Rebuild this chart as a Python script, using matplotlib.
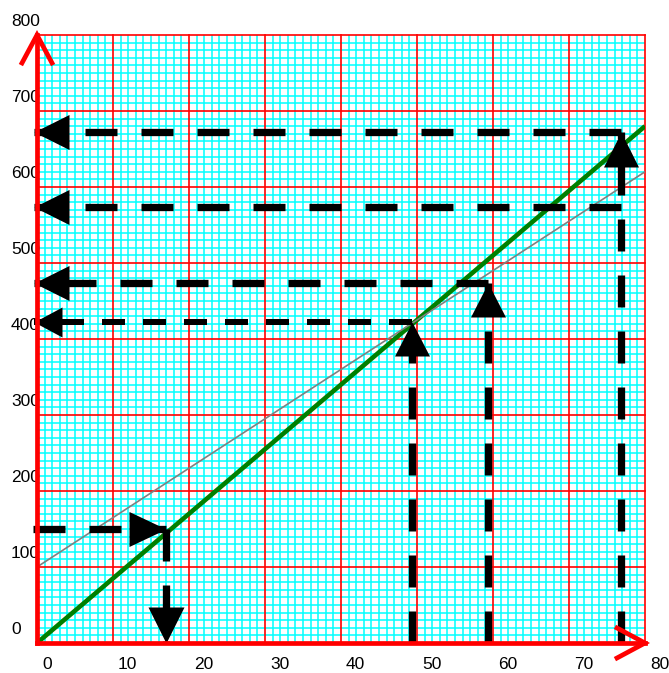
import matplotlib
matplotlib.use('Agg')
import matplotlib.pyplot as plt
from matplotlib import transforms
from matplotlib.path import Path

plt.rcParams['font.family'] = ['Liberation Sans', 'DejaVu Sans']
plt.rcParams['lines.scale_dashes'] = False

# Datos
x_ticks = [0, 10, 20, 30, 40, 50, 60, 70, 80]
y_ticks = [0, 100, 200, 300, 400, 500, 600, 700, 800]

verde_x = [0, 80]
verde_y = [0, 680]
gris_x = [0, 80]
gris_y = [100, 620]

# Lecturas sobre la grafica (x, y)
lect_x = [17, 49.4, 59.3, 76.8]
lect_y = [150, 422, 474, 673]
lect_extra_y = 574

DPI = 100
W, H = 669, 673

def pt(px):
    return px * 72 / DPI

def punta(direccion, largo, ancho):
    # triangulo con la punta en (0, 0)
    if direccion == 'der':
        v = [(0, 0), (-largo, ancho / 2), (-largo, -ancho / 2), (0, 0)]
    elif direccion == 'izq':
        v = [(0, 0), (largo, ancho / 2), (largo, -ancho / 2), (0, 0)]
    elif direccion == 'arriba':
        v = [(0, 0), (-ancho / 2, -largo), (ancho / 2, -largo), (0, 0)]
    else:
        v = [(0, 0), (-ancho / 2, largo), (ancho / 2, largo), (0, 0)]
    tam = 2 * max(largo, ancho / 2)
    return Path(v, closed=True), pt(tam)

fig = plt.figure(figsize=(W / DPI, H / DPI), dpi=DPI)
ax = fig.add_axes([37 / W, 30 / H, 608 / W, 608 / H])
ax.set_xlim(0, 80)
ax.set_ylim(0, 800)
ax.set_xticks([])
ax.set_yticks([])
ax.spines['top'].set_visible(False)
ax.spines['right'].set_visible(False)
for s in ['left', 'bottom']:
    ax.spines[s].set_color('red')
    ax.spines[s].set_linewidth(3.4)
    ax.spines[s].set_zorder(6)

# Papel milimetrado
for i in range(0, 81):
    if i % 10 == 0:
        ax.axvline(i, color='red', lw=1.2, zorder=1, clip_on=False)
    else:
        ax.axvline(i, color='cyan', lw=1.1, zorder=0.5)
for j in range(0, 801, 10):
    if j % 100 == 0:
        ax.axhline(j, color='red', lw=1.2, zorder=1, clip_on=False)
    else:
        ax.axhline(j, color='cyan', lw=1.1, zorder=0.5)

# Rectas
ax.plot(verde_x, verde_y, color='#008000', lw=3.3, zorder=3, solid_capstyle='butt')
ax.plot(gris_x, gris_y, color='#808080', lw=1.2, zorder=3.5)

grueso = dict(color='black', lw=pt(7.3), dashes=(pt(32), pt(24)),
              dash_capstyle='butt', clip_on=False, zorder=4)
fino = dict(color='black', lw=pt(6), dashes=(pt(23), pt(18)),
            dash_capstyle='butt', clip_on=False, zorder=4)

def flecha(x, y, direccion, largo=36, ancho=35):
    m, ms = punta(direccion, largo, ancho)
    ax.plot([x], [y], marker=m, ms=ms, color='black', mec='none',
            ls='none', clip_on=False, zorder=5)

izq = -0.4

# Lectura 1: de y hacia x
ax.plot([-0.5, lect_x[0]], [lect_y[0], lect_y[0]], **grueso)
flecha(lect_x[0], lect_y[0], 'der', 37, 35)
ax.plot([lect_x[0], lect_x[0]], [lect_y[0], 0], **grueso)
flecha(lect_x[0], 0, 'abajo', 36, 36)

# Lectura 2 (linea fina)
ax.plot([lect_x[1], lect_x[1]], [0, lect_y[1]], **grueso)
flecha(lect_x[1], lect_y[1], 'arriba', 34, 35)
ax.plot([lect_x[1], izq], [lect_y[1], lect_y[1]], **fino)
flecha(izq, lect_y[1], 'izq', 28, 30)

# Lectura 3
ax.plot([lect_x[2], lect_x[2]], [0, lect_y[2]], **grueso)
flecha(lect_x[2], lect_y[2], 'arriba', 34, 35)
ax.plot([lect_x[2], izq], [lect_y[2], lect_y[2]], **grueso)
flecha(izq, lect_y[2], 'izq', 35, 35)

# Lectura 4
ax.plot([lect_x[3], lect_x[3]], [0, lect_y[3]], **grueso)
flecha(lect_x[3], lect_y[3], 'arriba', 35, 35)
ax.plot([lect_x[3], izq], [lect_y[3], lect_y[3]], **grueso)
flecha(izq, lect_y[3], 'izq', 35, 35)
ax.plot([lect_x[3], izq], [lect_extra_y, lect_extra_y], **grueso)
flecha(izq, lect_extra_y, 'izq', 35, 35)

# Flechas de los ejes
a, b = 15 / 608, 28 / 608
ax.plot([-a, 0, a], [1 - b, 1, 1 - b], color='red', lw=3.4, transform=ax.transAxes,
        clip_on=False, solid_joinstyle='miter', zorder=6)
ax.plot([1 - b, 1, 1 - b], [a, 0, -a], color='red', lw=3.4, transform=ax.transAxes,
        clip_on=False, solid_joinstyle='miter', zorder=6)

# Etiquetas
ty = transforms.blended_transform_factory(fig.transFigure, ax.transData) + \
    transforms.ScaledTranslation(0, 9 / DPI, fig.dpi_scale_trans)
for v in y_ticks:
    ax.text(11 / W, v, str(v), transform=ty, ha='left', va='baseline', fontsize=12.5)

tx = transforms.blended_transform_factory(ax.transData, ax.transAxes) + \
    transforms.ScaledTranslation(5 / DPI, -26 / DPI, fig.dpi_scale_trans)
for v in x_ticks:
    ax.text(v, 0, str(v), transform=tx, ha='left', va='baseline', fontsize=12.5)

fig.savefig('out.png', dpi=DPI)
